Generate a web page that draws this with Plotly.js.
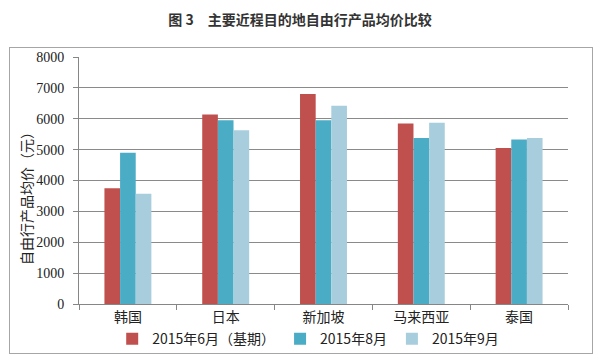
<!DOCTYPE html>
<html><head><meta charset="utf-8">
<script src="https://cdn.plot.ly/plotly-3.0.1.min.js"></script>
<style>
body{margin:0;background:#fff;}
#wrap{position:relative;width:600px;height:360px;}
#box{position:absolute;left:9px;top:47px;width:582px;height:305px;border:1px solid #a6a6a6;}
#chart{position:absolute;left:0;top:0;width:600px;height:360px;}
</style></head>
<body><div id="wrap"><div id="box"></div><div id="chart"></div></div>
<script>
const categories = ["韩国","日本","新加坡","马来西亚","泰国"];
const seriesNames = ["2015年6月（基期）","2015年8月","2015年9月"];
const jun = [3750, 6140, 6800, 5850, 5050];
const aug = [4900, 5950, 5950, 5380, 5330];
const sep = [3570, 5630, 6420, 5870, 5380];
const colors = ["#C0504D","#4BACC6","#A8CEDD"];
const yTicks = [0,1000,2000,3000,4000,5000,6000,7000,8000];

const traces = [jun, aug, sep].map((v,i)=>({
  type:'bar', x:categories, y:v, name:seriesNames[i],
  marker:{color:colors[i]}
}));

const layout = {
  width:600, height:360,
  paper_bgcolor:'rgba(0,0,0,0)', plot_bgcolor:'rgba(0,0,0,0)',
  margin:{l:79,r:32,t:57,b:56},
  barmode:'group', bargap:0.52, bargroupgap:0,
  title:{text:'<b>图 3　主要近程目的地自由行产品均价比较</b>', x:0.5, xanchor:'center', y:0.945, yanchor:'middle',
    font:{family:'Noto Sans CJK SC', size:14, color:'#333'}},
  xaxis:{type:'category', showline:true, linecolor:'#868686', ticks:'outside', ticklen:5, tickcolor:'#868686',
    tickson:'boundaries', showgrid:false,
    tickfont:{family:'Noto Sans CJK SC', size:14, color:'#222'}},
  yaxis:{range:[0,8000], tickvals:yTicks, ticktext:yTicks.map(String), showline:true, linecolor:'#868686',
    ticks:'outside', ticklen:5, tickcolor:'#868686', gridcolor:'#8a8a8a', gridwidth:1, zeroline:false,
    ticklabelstandoff:6,
    tickfont:{family:'Liberation Serif', size:14, color:'#222'}},
  annotations:[{text:'自由行产品均价（元）', textangle:-90, xref:'paper', yref:'paper',
    x:-0.107, y:0.44, xanchor:'center', yanchor:'middle', showarrow:false,
    font:{family:'Noto Sans CJK SC', size:14, color:'#222'}}],
  showlegend:true,
  legend:{orientation:'h', xref:'container', yref:'container', x:0.187, xanchor:'left', y:0.058, yanchor:'middle',
    font:{family:'Noto Sans CJK SC', size:14, color:'#222'}, traceorder:'normal'}
};
Plotly.newPlot('chart', traces, layout, {displayModeBar:false, staticPlot:true});
</script></body></html>
